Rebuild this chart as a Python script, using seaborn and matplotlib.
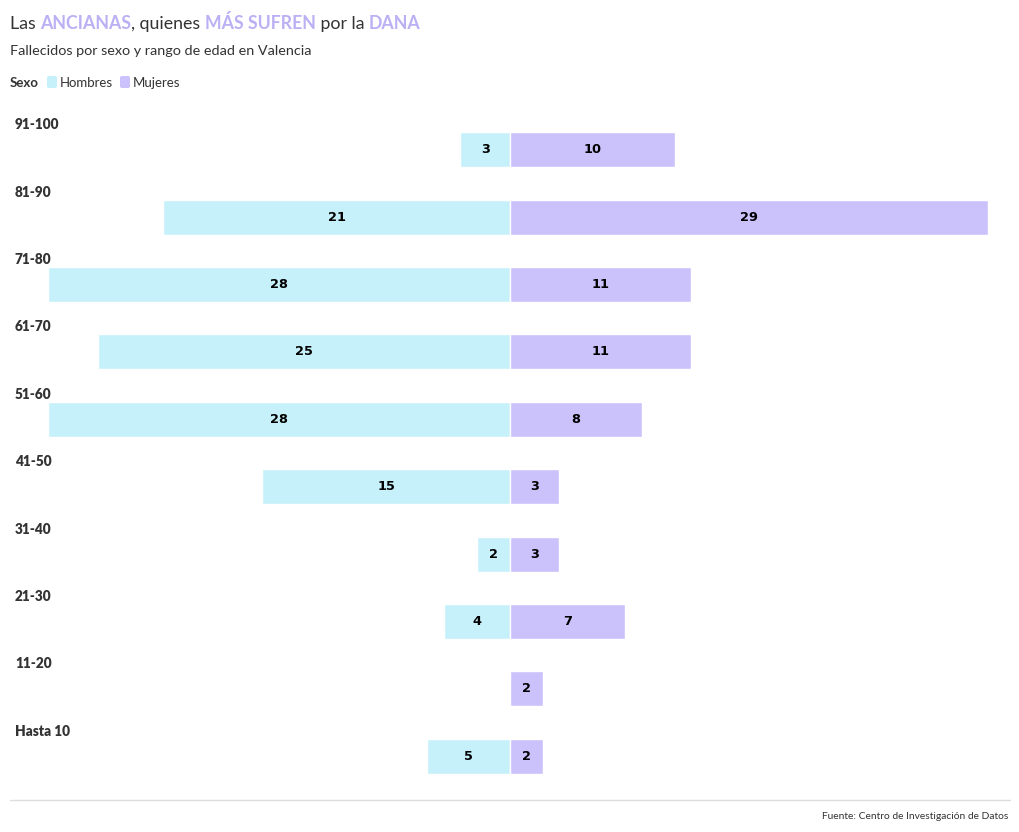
import numpy as np
import pandas as pd
import matplotlib
matplotlib.use("Agg")
import matplotlib.pyplot as plt
import seaborn as sns

# datos
edades = ["91-100", "81-90", "71-80", "61-70", "51-60",
          "41-50", "31-40", "21-30", "11-20", "Hasta 10"]
hombres = [3, 21, 28, 25, 28, 15, 2, 4, 0, 5]
mujeres = [10, 29, 11, 11, 8, 3, 3, 7, 2, 2]

COL_H = "#c6f1fa"
COL_M = "#cbc2fb"
COL_TIT = "#bcb0f4"

df = pd.concat([
    pd.DataFrame({"edad": edades, "valor": [-v for v in hombres], "sexo": "Hombres"}),
    pd.DataFrame({"edad": edades, "valor": mujeres, "sexo": "Mujeres"}),
])

sns.set_theme(style="white")
plt.rcParams["font.family"] = ["Lato", "DejaVu Sans"]

W, H = 1020, 832
fig = plt.figure(figsize=(W / 100, H / 100), dpi=100)


def px(x, y):
    return x / W, 1 - y / H


# axes: x 15..1005, y 116..790 px
ax = fig.add_axes([15 / W, 1 - 790 / H, 990 / W, 674 / H])
sns.barplot(data=df, x="valor", y="edad", hue="sexo", order=edades,
            palette={"Hombres": COL_H, "Mujeres": COL_M}, dodge=False,
            width=0.52, orient="h", legend=False, edgecolor="white",
            linewidth=1, saturation=1, ax=ax)
ax.set_xlim(-30, 30)
ax.set_ylim(len(edades) - 0.5, -0.5)
ax.axis("off")

for cont, vals in zip(ax.containers, [hombres, mujeres]):
    ax.bar_label(cont, labels=[str(v) if v else "" for v in vals],
                 label_type="center", fontsize=9.3, fontweight="bold",
                 color="#000000", family="DejaVu Sans")

for i, e in enumerate(edades):
    ax.text(0.0, i - 0.37, e, transform=ax.get_yaxis_transform(),
            ha="left", va="center", fontsize=9.8, fontweight="heavy",
            color="#333333")

renderer = fig.canvas.get_renderer()


def pieces(items, x, y, size):
    for txt, color, weight in items:
        t = fig.text(*px(x, y), txt, color=color, fontsize=size,
                     fontweight=weight, va="baseline", ha="left")
        bb = t.get_window_extent(renderer=renderer)
        x += bb.width


pieces([("Las ", "#333333", "normal"), ("ANCIANAS", COL_TIT, "bold"),
        (", quienes ", "#333333", "normal"), ("MÁS SUFREN", COL_TIT, "bold"),
        (" por la ", "#333333", "normal"), ("DANA", COL_TIT, "bold")],
       10, 29, 12.8)

fig.text(*px(10, 55), "Fallecidos por sexo y rango de edad en Valencia",
         fontsize=10.4, color="#333333", va="baseline")

# leyenda
fig.text(*px(10, 87), "Sexo", fontsize=9.5, fontweight="bold",
         color="#333333", va="baseline")
for x0, col, lab in [(47, COL_H, "Hombres"), (120, COL_M, "Mujeres")]:
    fig.patches.append(matplotlib.patches.FancyBboxPatch(
        px(x0, 88), 10 / W, 12 / H, boxstyle="round,pad=0,rounding_size=0.002",
        transform=fig.transFigure, facecolor=col, edgecolor="none"))
    fig.text(*px(x0 + 13, 87), lab, fontsize=9.5, color="#333333",
             va="baseline")

fig.add_artist(matplotlib.lines.Line2D([10 / W, 1010 / W], [1 - 800 / H] * 2,
                                       color="#dddddd", lw=1))
fig.text(*px(1008, 819), "Fuente: Centro de Investigación de Datos",
         fontsize=7.4, color="#333333", ha="right", va="baseline")

fig.savefig("out.png", dpi=100)
